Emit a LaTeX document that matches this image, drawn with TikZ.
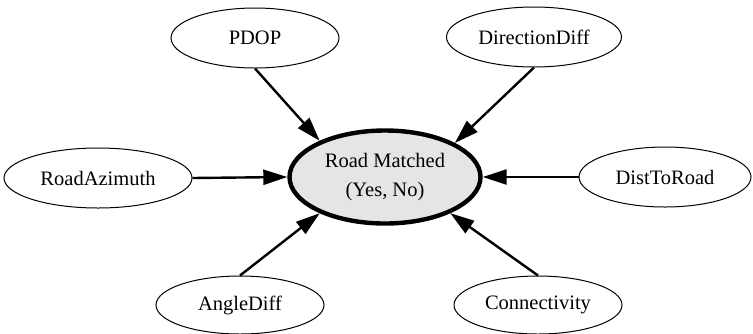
\documentclass[tikz,border=0pt]{standalone}
\usepackage{fontspec}
\setmainfont{Liberation Serif}
\usetikzlibrary{arrows.meta,shapes.geometric}
\begin{document}
\begin{tikzpicture}[x=0.5pt,y=-0.5pt,
    font=\fontsize{10.25}{14.5}\selectfont,
    var/.style={draw,ellipse,line width=0.5pt,inner sep=0pt,minimum height=30pt},
    goal/.style={draw,ellipse,line width=2.2pt,fill=black!10,inner sep=0pt,
      minimum width=95.5pt,minimum height=46.5pt,align=center},
    link/.style={-{Triangle[length=12pt,width=7.5pt]},line width=1.2pt}]
  \useasboundingbox (0,0) rectangle (753,333);
  \node[goal](RM) at(385,177) {Road Matched\\(Yes, No)};
  \node[var,minimum width=84pt](PDOP) at(255,38) {PDOP};
  \node[var,minimum width=87.5pt](DirDiff) at(534,37) {DirectionDiff};
  \node[var,minimum width=94pt](RoadAz) at(98,178) {RoadAzimuth};
  \node[var,minimum width=86pt](Dist) at(665,177) {DistToRoad};
  \node[var,minimum width=84pt,minimum height=29pt](AngDiff) at(240,305) {AngleDiff};
  \node[var,minimum width=84pt,minimum height=29pt](Conn) at(538,305) {Connectivity};

  \foreach \x/\y in{PDOP.south/RM.151, DirDiff.south/RM.26,
    RoadAz.east/RM.west, Dist.west/RM.east,
    AngDiff.north/RM.209, Conn.north/RM.331%
  }{
    \draw[link](\x)--(\y);
  }
\end{tikzpicture}
\end{document}
